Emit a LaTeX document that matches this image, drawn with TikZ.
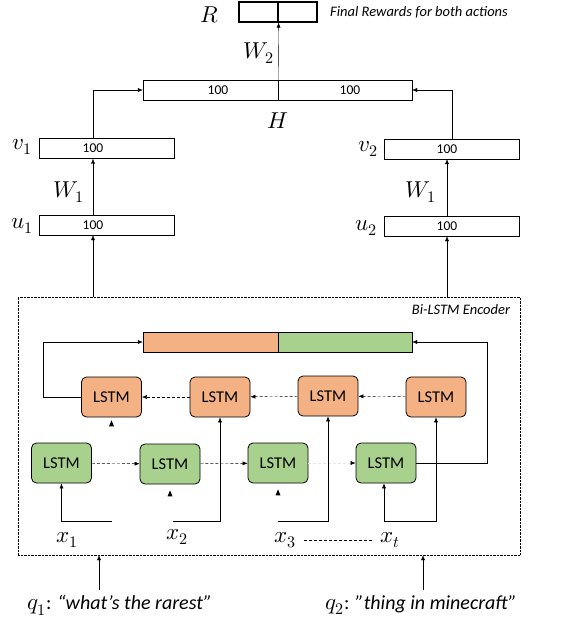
\documentclass[tikz,border=0pt]{standalone}
\usepackage{amsmath, amssymb}
\usepackage{xcolor}
\usepackage{fontspec}
\usepackage{unicode-math}
\setmainfont{Carlito}
\setmathfont{Latin Modern Math}
\usepackage{tikz}
\usetikzlibrary{positioning, arrows.meta}

\definecolor{lstmorange}{RGB}{244,177,131}
\definecolor{lstmgreen}{RGB}{169,209,142}

\tikzset{
  vec/.style={draw, minimum width=135pt, minimum height=20pt, inner sep=0pt},
  cell/.style={vec, minimum width=134pt},
  num/.style={font=\fontsize{13.5}{13.5}\selectfont, inner sep=0pt},
  lstmf/.style={draw, line width=0.8pt, rounded corners=5pt, fill=lstmorange,
    minimum width=60pt, minimum height=40pt, font=\fontsize{16.5}{16.5}\selectfont},
  lstmb/.style={lstmf, fill=lstmgreen},
  lab/.style={font=\fontsize{23}{23}\selectfont, inner sep=0pt},
  note/.style={font=\fontsize{14.5}{14.5}\selectfont\itshape, inner sep=0pt},
  arr/.style={-{Latex[length=5pt,width=4pt]}},
  rec/.style={-{Latex[length=5pt,width=4pt]}, densely dashed},
  tip/.style={fill=black},
}

\begin{document}
\begin{tikzpicture}[x=1pt, y=-1pt, thin]
  \useasboundingbox (0,0) rectangle (580,620);

  % top: rewards and hidden layer
  \node[vec, minimum width=39pt, line width=1.2pt] (r1) at (258.5,12) {};
  \node[vec, minimum width=39pt, line width=1.2pt] (r2) at (297.5,12) {};
  \node[lab] (R) at (210,15) {$R$};
  \node[note, anchor=west] (fin) at (330,12) {Final Rewards for both actions};

  \node[vec] (h1) at (210.5,90) {};
  \node[cell] (h2) at (345,90) {};
  \node[num] (nh1) at (218,90) {100};
  \node[num] (nh2) at (350,90) {100};
  \node[lab] (H) at (278,121) {$H$};
  \node[lab] (W2) at (259,53) {$W_2$};
  \draw[arr] (h1.north east) -- (r1.south east);

  % the two question vectors
  \node[vec] (v1) at (106.5,148.5) {};
  \node[vec] (u1) at (106.5,225) {};
  \node[vec] (v2) at (452,149) {};
  \node[vec] (u2) at (452,226) {};
  \node[num] (nv1) at (93,148.5) {100};
  \node[num] (nu1) at (93,225) {100};
  \node[num] (nv2) at (447,149) {100};
  \node[num] (nu2) at (447,226) {100};
  \node[lab] (lv1) at (22,147) {$v_1$};
  \node[lab] (lu1) at (22,226) {$u_1$};
  \node[lab] (lv2) at (368,149) {$v_2$};
  \node[lab] (lu2) at (366,228) {$u_2$};
  \node[lab] (W1a) at (69,192) {$W_1$};
  \node[lab] (W1b) at (421,192) {$W_1$};

  \draw[arr] (nv1 |- v1.north) |- (h1.west);
  \draw[arr] (v2.north) |- (h2.east);
  \draw[arr] (nu1 |- u1.north) -- (nu1 |- v1.south);
  \draw[arr] (nu2 |- u2.north) -- (nu2 |- v2.south);

  % encoder
  \node[draw, densely dotted, minimum width=502pt, minimum height=258pt, inner sep=0pt] (enc) at (269,426) {};
  \node[note, anchor=north east] (enclab) at ([xshift=-10pt,yshift=-7pt]enc.north east) {Bi-LSTM Encoder};
  \draw[arr] (nu1 |- enc.north) -- (nu1 |- u1.south);
  \draw[arr] (nu2 |- enc.north) -- (nu2 |- u2.south);

  \node[vec, fill=lstmorange] (b1) at (210.5,342) {};
  \node[cell, fill=lstmgreen] (b2) at (345,342) {};

  \node[lstmf] (f1) at (111.5,397) {LSTM};
  \node[lstmf] (f2) at (220,397) {LSTM};
  \node[lstmf] (f3) at (328,396) {LSTM};
  \node[lstmf] (f4) at (436,397) {LSTM};
  \node[lstmb] (g1) at (61.5,463) {LSTM};
  \node[lstmb] (g2) at (170,464) {LSTM};
  \node[lstmb] (g3) at (278,463) {LSTM};
  \node[lstmb] (g4) at (386,463) {LSTM};

  \draw[rec] (f4) -- (f3);
  \draw[rec] (f3) -- (f2);
  \draw[rec] (f2) -- (f1);
  \draw[rec] (g1) -- (g2);
  \draw[rec] (g2) -- (g3);
  \draw[densely dashed, draw=gray!20, -{Latex[length=5pt,width=4pt,black]}] (g3) -- (g4);

  \draw[arr] (f1.west) -- ++(-38,0) |- (b1.west);
  \draw[arr] (g4.east) -- ++(71,0) |- (b2.east);

  % inputs
  \node[lab] (x1) at (67,540) {$x_1$};
  \node[lab] (x2) at (177,537) {$x_2$};
  \node[lab] (x3) at (285,540) {$x_3$};
  \node[lab] (xt) at (390,540) {$x_t$};
  \draw[densely dashed, shorten <=8pt, shorten >=8pt] (x3) -- (xt);

  \coordinate (in1) at (112,521);
  \coordinate (in2) at (173,521);
  \coordinate (in3) at (278,521);
  \coordinate (int) at (384,521);
  \draw[arr] (in1) -| (g1.south);
  \draw[arr] (in2) -| (f2.south);
  \draw[arr] (in3) -| (f3.south);
  \draw[arr] (int) -- (int |- g4.south);
  \draw[arr] (int) -| (f4.south);

  % lone arrow tips
  \fill[tip] ([yshift=-3pt]f1.south) -- ++(-2.5,6) -- ++(5,0) -- cycle;
  \fill[tip] ([yshift=-6pt]g2.south) -- ++(-2.5,6) -- ++(5,0) -- cycle;
  \fill[tip] ([yshift=-6pt]g3.south) -- ++(-2.5,6) -- ++(5,0) -- cycle;

  % questions
  \node[lab, anchor=west] (q1) at (27,605) {$q_1$\fontsize{20}{20}\selectfont: \textit{“what's the rarest”}};
  \node[lab, anchor=west] (q2) at (325,605) {$q_2$\fontsize{20}{20}\selectfont: \textit{"thing in minecraft"}};
  \coordinate (q1in) at (99,590);
  \coordinate (q2in) at (423,590);
  \draw[arr] (q1in) -- (q1in |- enc.south);
  \draw[arr] (q2in) -- (q2in |- enc.south);
\end{tikzpicture}
\end{document}
